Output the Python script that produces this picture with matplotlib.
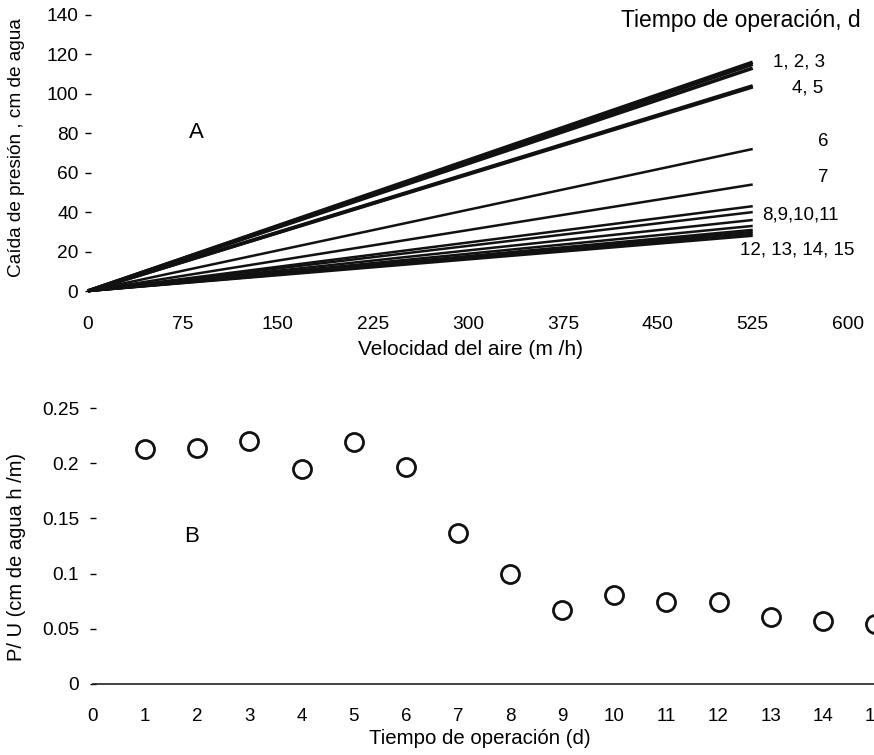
import matplotlib
matplotlib.use("Agg")
import matplotlib.pyplot as plt

plt.rcParams["font.family"] = ["Liberation Sans", "DejaVu Sans"]

# ---------------------------------------------------------------------------
# Datos
# ---------------------------------------------------------------------------
# Panel A: caída de presión vs velocidad del aire (una recta por día)
vel_aire = [0, 525]
dias_a = list(range(1, 16))
caida_final = [116, 115, 113, 104, 103.5, 72, 54, 43, 40, 36, 33, 31, 30, 29, 28]
x_ticks_a = [0, 75, 150, 225, 300, 375, 450, 525, 600]
y_ticks_a = [0, 20, 40, 60, 80, 100, 120, 140]

etiquetas_dias = ["1, 2, 3", "4, 5", "6", "7", "8,9,10,11", "12, 13, 14, 15"]

# Panel B: P/U vs tiempo de operación
dias_b = list(range(1, 16))
p_sobre_u = [0.213, 0.214, 0.220, 0.195, 0.219, 0.197, 0.137, 0.100,
             0.067, 0.081, 0.074, 0.074, 0.061, 0.057, 0.054]
x_ticks_b = list(range(0, 16))
y_ticks_b = [0, 0.05, 0.1, 0.15, 0.2, 0.25]
y_labels_b = ["0", "0.05", "0.1", "0.15", "0.2", "0.25"]

W, H = 874, 755
fig = plt.figure(figsize=(W / 100, H / 100), dpi=100)


def ftext(px, py, s, **kw):
    """Texto colocado en píxeles de la figura (origen arriba-izquierda)."""
    return fig.text(px / W, 1 - py / H, s, **kw)


# ---------------------------------------------------------------------------
# Panel A
# ---------------------------------------------------------------------------
ax1 = fig.add_axes([88 / W, (H - 291) / H, 785 / W, 286 / H])
for dia, yfin in zip(dias_a, caida_final):
    lw = 2.6 if dia <= 5 else 1.8
    ax1.plot(vel_aire, [0, yfin], color="#111111", lw=lw, clip_on=False,
             solid_capstyle="butt")

ax1.set_xlim(0, 620)
ax1.set_ylim(0, 145)
ax1.set_xticks(x_ticks_a)
ax1.set_yticks(y_ticks_a)
for s in ax1.spines.values():
    s.set_visible(False)
ax1.tick_params(axis="x", length=0, pad=18, labelsize=13.8)
ax1.tick_params(axis="y", length=4, direction="inout", width=1, pad=5, labelsize=13.8)

ftext(196, 133, "A", fontsize=16, ha="center", va="center")
ftext(861, 20, "Tiempo de operación, d", fontsize=16.5, ha="right", va="center")
ftext(773, 62, etiquetas_dias[0], fontsize=13.5, ha="left", va="center")
ftext(792, 88, etiquetas_dias[1], fontsize=13.5, ha="left", va="center")
ftext(823, 142, etiquetas_dias[2], fontsize=13.5, ha="center", va="center")
ftext(823, 177, etiquetas_dias[3], fontsize=13.5, ha="center", va="center")
ftext(762, 215, etiquetas_dias[4], fontsize=13.5, ha="left", va="center")
ftext(740, 250, etiquetas_dias[5], fontsize=13.5, ha="left", va="center")

ftext(17, 148, "Caída de presión , cm de agua", rotation=90,
      ha="center", va="center", fontsize=13.7)
ftext(471, 350, "Velocidad del aire (m /h)",
      ha="center", va="center", fontsize=15)

# ---------------------------------------------------------------------------
# Panel B
# ---------------------------------------------------------------------------
ax2 = fig.add_axes([93 / W, (H - 684) / H, 834 / W, 298 / H])
ax2.plot(dias_b, p_sobre_u, "o", ms=13, mfc="none", mec="#111111", mew=2,
         clip_on=False)
ax2.set_xlim(0, 16)
ax2.set_ylim(0, 0.27)
ax2.set_xticks(x_ticks_b)
ax2.set_yticks(y_ticks_b)
ax2.set_yticklabels(y_labels_b)
for name, s in ax2.spines.items():
    s.set_visible(name == "bottom")
ax2.spines["bottom"].set_linewidth(1.2)
ax2.spines["bottom"].set_color("#222222")
ax2.tick_params(axis="x", length=0, pad=17, labelsize=13.5)
ax2.tick_params(axis="y", length=4, direction="inout", width=1, pad=8, labelsize=13.8)

ftext(192, 537, "B", fontsize=16, ha="center", va="center")

ftext(17, 557, "P/ U (cm de agua h /m)", rotation=90,
      ha="center", va="center", fontsize=14.5)
ftext(480, 738, "Tiempo de operación (d)",
      ha="center", va="center", fontsize=14.7)

fig.savefig("out.png", dpi=100)
